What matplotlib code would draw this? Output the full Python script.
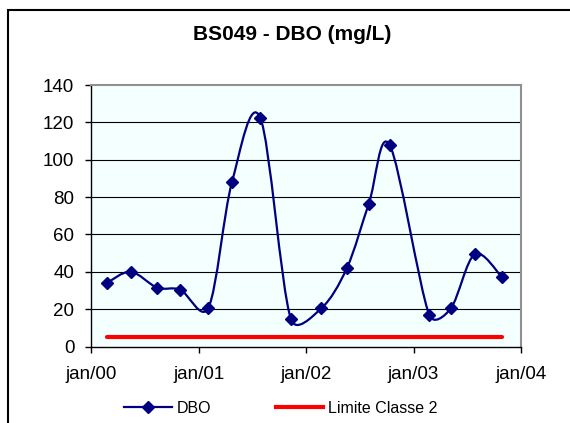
import matplotlib
matplotlib.use("Agg")
import matplotlib.pyplot as plt
import matplotlib.dates as mdates
from matplotlib.path import Path
from matplotlib.patches import PathPatch, Rectangle
from matplotlib.lines import Line2D
import numpy as np
import datetime as dt

plt.rcParams['font.family'] = ['Liberation Sans', 'DejaVu Sans']

# ---- data ----
dates = ["2000-02-24", "2000-05-15", "2000-08-13", "2000-10-30",
         "2001-02-03", "2001-04-24", "2001-07-29", "2001-11-10",
         "2002-02-22", "2002-05-20", "2002-08-02", "2002-10-12",
         "2003-02-23", "2003-05-08", "2003-07-28", "2003-10-28"]
dbo = [34, 40, 31.5, 30.4, 20.8, 88, 122.5, 14.8,
       20.5, 42.2, 76.5, 107.8, 17, 20.5, 49.4, 37.2]
limite = [5, 5]
limite_dates = [dates[0], dates[-1]]
x_ticks = ["2000-01-01", "2001-01-01", "2002-01-01", "2003-01-01", "2004-01-01"]
x_tick_labels = ["jan/00", "jan/01", "jan/02", "jan/03", "jan/04"]
y_ticks = [0, 20, 40, 60, 80, 100, 120, 140]
title = "BS049 - DBO (mg/L)"

def to_num(ds):
    return mdates.date2num([dt.datetime.strptime(d, "%Y-%m-%d") for d in ds])

xd = to_num(dates)
yd = np.array(dbo, dtype=float)

fig = plt.figure(figsize=(5.7, 4.23), dpi=100)
fig.patch.set_facecolor("white")
ax = fig.add_axes([91/570, 1-346.5/423, 430/570, 261.5/423])
ax.set_facecolor("#F4FFFF")
ax.set_xlim(to_num(x_ticks)[0], to_num(x_ticks)[-1])
ax.set_ylim(0, 140)

# smoothed line (Excel-like Bezier smoothing, computed in screen space)
S = ax.transData.transform(np.column_stack([xd, yd]))
n = len(S)
verts = [S[0]]
codes = [Path.MOVETO]
dist = lambda a, b: float(np.hypot(*(b - a)))
for i in range(n - 1):
    p0 = S[i-1] if i > 0 else S[i]
    p1 = S[i]
    p2 = S[i+1]
    p3 = S[i+2] if i + 2 < n else S[i+1]
    d12 = dist(p1, p2)
    d02 = dist(p0, p2)
    d13 = dist(p1, p3)
    f = 1.0 / 6.0
    g = 1.0 / 6.0
    if d02 / 6.0 >= d12 / 2.0 and d02 > 0:
        f = d12 / d02 / 2.0
    if d13 / 6.0 >= d12 / 2.0 and d13 > 0:
        g = d12 / d13 / 2.0
    c1 = p1 + f * (p2 - p0)
    c2 = p2 - g * (p3 - p1)
    verts += [c1, c2, p2]
    codes += [Path.CURVE4, Path.CURVE4, Path.CURVE4]
verts = ax.transData.inverted().transform(np.array(verts))
ax.add_patch(PathPatch(Path(verts, codes), facecolor="none", edgecolor="#000080",
                       lw=1.6, zorder=3))
ax.plot(xd, yd, linestyle="none", marker="D", markersize=6.5, color="#000080",
        zorder=4)
ax.plot(to_num(limite_dates), limite, color="#FF0000", lw=3, zorder=2,
        solid_capstyle="round")

ax.set_xticks(to_num(x_ticks))
ax.set_xticklabels(x_tick_labels)
ax.set_yticks(y_ticks)
ax.set_yticklabels([str(v) for v in y_ticks])
for v in y_ticks[1:-1]:
    ax.axhline(v, color="black", lw=0.8, zorder=1)

ax.tick_params(axis="both", direction="out", length=4, width=1, labelsize=13.5,
               color="black")
ax.tick_params(axis="y", pad=8)
ax.tick_params(axis="x", pad=10)
for s in ["left", "bottom"]:
    ax.spines[s].set_color("black")
    ax.spines[s].set_linewidth(1)
for s in ["top", "right"]:
    ax.spines[s].set_color("#909090")
    ax.spines[s].set_linewidth(1.5)

fig.text(292/570, 1-34/423, title, ha="center", va="center",
         fontsize=15, fontweight="bold")

# outer chart frame
fig.patches.append(Rectangle((8/570, -0.1), 1.2, 1-10/423+0.1,
                             transform=fig.transFigure, fill=False,
                             edgecolor="black", lw=1.5, zorder=0))

handles = [Line2D([], [], color="#000080", lw=1.6, marker="D", markersize=6.5),
           Line2D([], [], color="#FF0000", lw=3)]
fig.legend(handles, ["DBO", "Limite Classe 2"], loc="center",
           bbox_to_anchor=(281/570, 1-408/423), ncol=2, frameon=False,
           fontsize=11.5, handlelength=3.0, handletextpad=0.3,
           columnspacing=4.0)

fig.savefig("out.png", dpi=100)
